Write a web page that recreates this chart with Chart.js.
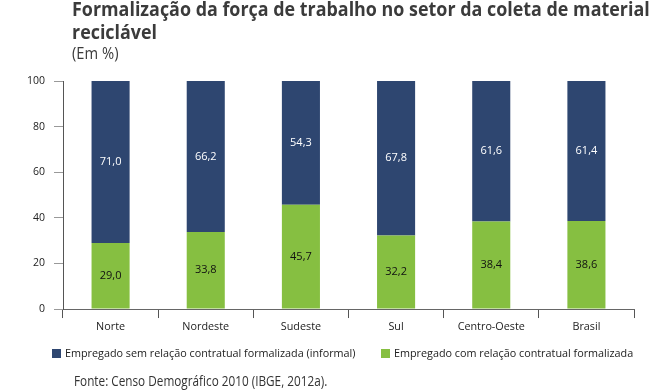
<!DOCTYPE html>
<html>
<head>
<meta charset="utf-8">
<script src="https://cdn.jsdelivr.net/npm/chart.js@4"></script>
<style>
  html, body { margin: 0; padding: 0; background: #fff; }
  #wrap { position: relative; width: 658px; height: 390px; overflow: hidden; font-family: "Open Sans", sans-serif; }
  #c { position: absolute; left: 0; top: 0; }
  .t { position: absolute; color: #3b3b3b; white-space: nowrap; transform-origin: 0 0; }
  #title { left: 72px; top: -3px; font-size: 20px; font-weight: bold; line-height: 23px; transform: scaleX(0.895); }
  #sub { left: 72px; top: 44px; font-size: 16px; line-height: 18px; transform: scaleX(0.92); }
  #src { left: 74px; top: 373px; font-size: 14px; line-height: 16px; color: #333; transform: scaleX(0.84); }
  #legend { position: absolute; left: 0; top: 346px; width: 658px; height: 16px; font-size: 10.8px; color: #222; }
  .li { position: absolute; top: 0; white-space: nowrap; line-height: 14px; }
  .sw { display: inline-block; width: 9px; height: 9px; margin-right: 4px; vertical-align: -1px; }
</style>
</head>
<body>
<div id="wrap">
  <canvas id="c" width="658" height="390"></canvas>
  <div class="t" id="title">Formalização da força de trabalho no setor da coleta de material<br>reciclável</div>
  <div class="t" id="sub">(Em %)</div>
  <div id="legend"></div>
  <div class="t" id="src">Fonte: Censo Demográfico 2010 (IBGE, 2012a).</div>
</div>
<script>
const categories = ["Norte", "Nordeste", "Sudeste", "Sul", "Centro-Oeste", "Brasil"];
const formal = [29.0, 33.8, 45.7, 32.2, 38.4, 38.6];
const informal = [71.0, 66.2, 54.3, 67.8, 61.6, 61.4];
const yTicks = [0, 20, 40, 60, 80, 100];
const seriesNames = ["Empregado sem relação contratual formalizada (informal)", "Empregado com relação contratual formalizada"];
const seriesColors = ["#2e4670", "#86bf41"];

const FONT = "'Open Sans', sans-serif";

// HTML legend (order: informal, formal)
const legendEl = document.getElementById('legend');
const legendX = [52, 381];
seriesNames.forEach((name, i) => {
  const d = document.createElement('div');
  d.className = 'li';
  d.style.left = legendX[i] + 'px';
  d.innerHTML = '<span class="sw" style="background:' + seriesColors[i] + '"></span>' + name;
  legendEl.appendChild(d);
});

const labelPlugin = {
  id: 'barLabels',
  afterDatasetsDraw(chart) {
    const ctx = chart.ctx;
    ctx.save();
    ctx.textAlign = 'center';
    ctx.textBaseline = 'middle';
    chart.data.datasets.forEach((ds, di) => {
      const meta = chart.getDatasetMeta(di);
      meta.data.forEach((bar, i) => {
        const v = ds.data[i];
        const cy = (bar.y + bar.base) / 2;
        ctx.fillStyle = di === 1 ? '#ffffff' : '#111111';
        ctx.font = "11px " + FONT;
        ctx.fillText(v.toFixed(1).replace('.', ','), bar.x, cy);
      });
    });
    ctx.restore();
  }
};

new Chart(document.getElementById('c'), {
  type: 'bar',
  data: {
    labels: categories,
    datasets: [
      { label: seriesNames[1], data: formal, backgroundColor: seriesColors[1], stack: 's' },
      { label: seriesNames[0], data: informal, backgroundColor: seriesColors[0], stack: 's' }
    ]
  },
  options: {
    responsive: false,
    animation: false,
    devicePixelRatio: 1,
    layout: { padding: { top: 81, left: 0, right: 24, bottom: 55 } },
    datasets: { bar: { categoryPercentage: 1.0, barPercentage: 0.4 } },
    plugins: {
      tooltip: { enabled: false },
      legend: { display: false }
    },
    scales: {
      x: {
        stacked: true,
        offset: true,
        grid: { display: true, drawOnChartArea: false, offset: true, tickLength: 9, color: '#555' },
        border: { display: true, color: '#666' },
        ticks: { color: '#222', font: { family: FONT, size: 10.8 }, padding: 2 }
      },
      y: {
        stacked: true,
        min: 0, max: 100,
        afterFit(s) { s.width = 63; },
        afterBuildTicks(s) { s.ticks = yTicks.map(v => ({ value: v })); },
        grid: { display: true, drawOnChartArea: false, tickLength: 9, color: '#999' },
        border: { display: true, color: '#555' },
        ticks: { color: '#222', font: { family: FONT, size: 10.5 }, padding: 9 }
      }
    }
  },
  plugins: [labelPlugin]
});
</script>
</body>
</html>
